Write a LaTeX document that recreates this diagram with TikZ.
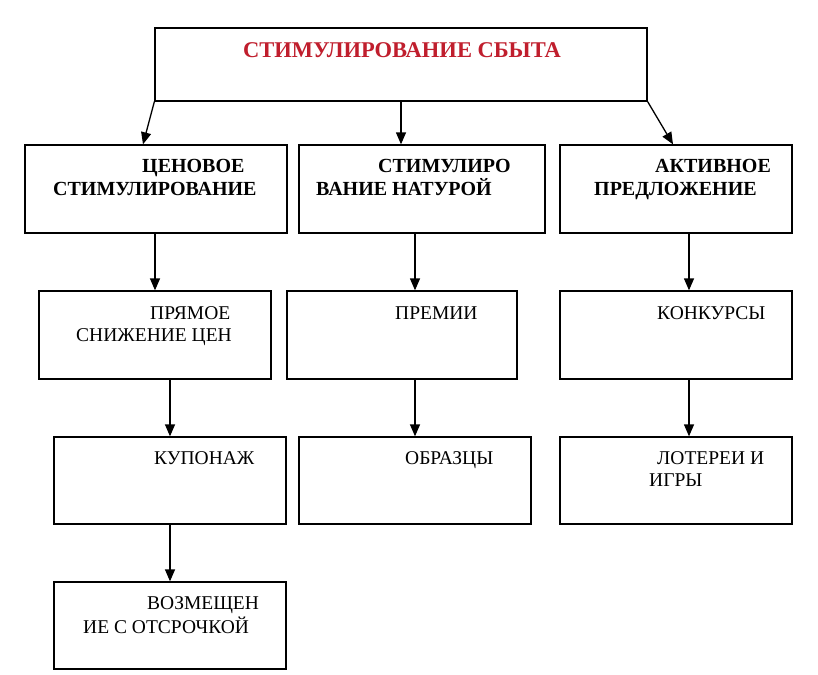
\documentclass[tikz,border=0pt]{standalone}
\usepackage{fontspec}
\setmainfont{Liberation Serif}
\usetikzlibrary{arrows.meta,calc}
\definecolor{titlered}{RGB}{192,30,45}
\tikzset{
  box/.style={draw=black, line width=1.3pt, rectangle, inner sep=0pt},
  arr/.style={draw=black, line width=1.3pt, -{Triangle[length=12pt,width=10pt]}},
  lbl/.style={anchor=base west, inner sep=0pt, font=\fontsize{19.5}{19.5}\selectfont},
  blbl/.style={lbl, font=\fontsize{20}{20}\selectfont\bfseries},
}
\begin{document}
\begin{tikzpicture}[x=1pt,y=-1pt]
\useasboundingbox[fill=white] (0,0) rectangle (818,674);
% boxes
\node[box, minimum width=492pt, minimum height=73pt] (top) at (401,64.5) {};
\node[box, minimum width=262pt, minimum height=88pt] (r1a) at (156,189) {};
\node[box, minimum width=246pt, minimum height=88pt] (r1b) at (422,189) {};
\node[box, minimum width=232pt, minimum height=88pt] (r1c) at (676,189) {};
\node[box, minimum width=232pt, minimum height=88pt] (r2a) at (155,335) {};
\node[box, minimum width=230pt, minimum height=88pt] (r2b) at (402,335) {};
\node[box, minimum width=232pt, minimum height=88pt] (r2c) at (676,335) {};
\node[box, minimum width=232pt, minimum height=87pt] (r3a) at (170,480.5) {};
\node[box, minimum width=232pt, minimum height=87pt] (r3b) at (415,480.5) {};
\node[box, minimum width=232pt, minimum height=87pt] (r3c) at (676,480.5) {};
\node[box, minimum width=232pt, minimum height=87pt] (r4a) at (170,625.5) {};
% texts
\node[blbl, text=titlered, font=\fontsize{22.5}{22.5}\selectfont\bfseries] (tt) at (243,58) {СТИМУЛИРОВАНИЕ СБЫТА};
\node[blbl] (t1a1) at (142,172) {ЦЕНОВОЕ};
\node[blbl] (t1a2) at (53,195.5) {СТИМУЛИРОВАНИЕ};
\node[blbl] (t1b1) at (378,172) {СТИМУЛИРО};
\node[blbl] (t1b2) at (316,195.5) {ВАНИЕ НАТУРОЙ};
\node[blbl] (t1c1) at (655,172) {АКТИВНОЕ};
\node[blbl] (t1c2) at (594,195.5) {ПРЕДЛОЖЕНИЕ};
\node[lbl] (t2a1) at (150,319) {ПРЯМОЕ};
\node[lbl] (t2a2) at (76,341) {СНИЖЕНИЕ ЦЕН};
\node[lbl] (t2b1) at (395,319) {ПРЕМИИ};
\node[lbl] (t2c1) at (657,319) {КОНКУРСЫ};
\node[lbl] (t3a1) at (154,464) {КУПОНАЖ};
\node[lbl] (t3b1) at (405,464) {ОБРАЗЦЫ};
\node[lbl] (t3c1) at (657,464) {ЛОТЕРЕИ И};
\node[lbl] (t3c2) at (649,486) {ИГРЫ};
\node[lbl] (t4a1) at (147,609) {ВОЗМЕЩЕН};
\node[lbl] (t4a2) at (83,633) {ИЕ С ОТСРОЧКОЙ};
% arrows
\draw[arr] (top.south west) -- ([xshift=-13pt]r1a.north);
\draw[arr] (top.south) -- (top.south |- r1b.north);
\draw[arr] (top.south east) -- ([xshift=-3pt]r1c.north);
\draw[arr] (r1a.south -| r2a.north) -- (r2a.north);
\draw[arr] (r1b.south -| r3b.north) -- (r2b.north -| r3b.north);
\draw[arr] ([xshift=13pt]r1c.south) -- ([xshift=13pt]r2c.north);
\draw[arr] (r2a.south -| r3a.north) -- (r3a.north);
\draw[arr] (r2b.south -| r3b.north) -- (r3b.north);
\draw[arr] ([xshift=13pt]r2c.south) -- ([xshift=13pt]r3c.north);
\draw[arr] (r3a.south) -- (r4a.north);
\end{tikzpicture}
\end{document}
